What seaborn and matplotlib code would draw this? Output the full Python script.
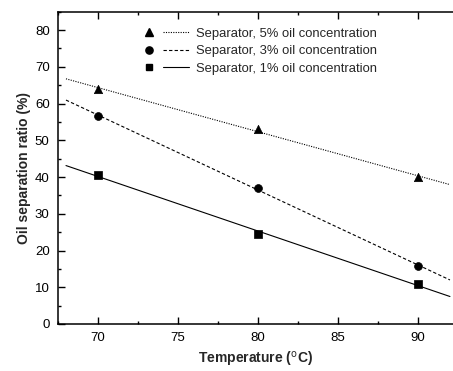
import numpy as np
import pandas as pd
import matplotlib
matplotlib.use("Agg")
import matplotlib.pyplot as plt
from matplotlib.ticker import MultipleLocator
from matplotlib.legend_handler import HandlerTuple
import seaborn as sns

# Measured oil separation ratios at each temperature
temperature = [70, 80, 90]
ratio_5pct = [64.0, 53.0, 40.0]
ratio_3pct = [56.6, 37.0, 15.8]
ratio_1pct = [40.6, 24.4, 10.9]

series_labels = [
    "Separator, 5% oil concentration",
    "Separator, 3% oil concentration",
    "Separator, 1% oil concentration",
]
markers = ["^", "o", "s"]
marker_sizes = [36, 32, 26]
legend_msizes = [5.5, 5.2, 4.8]
linestyles = [(0, (1, 1.2)), (0, (3, 2)), "-"]
fit_range = [68, 92]

sns.set_theme(style="ticks")
plt.rcParams["font.family"] = ["Liberation Sans", "DejaVu Sans"]

fig = plt.figure(figsize=(4.53, 3.71), dpi=100)
ax = fig.add_axes([0.128, 0.1267, 0.872, 0.8418])

handles = []
for vals, label, mk, ms, lms, ls in zip([ratio_5pct, ratio_3pct, ratio_1pct],
                                        series_labels, markers, marker_sizes,
                                        legend_msizes, linestyles):
    df = pd.DataFrame({"T": temperature, "R": vals})
    sns.scatterplot(data=df, x="T", y="R", marker=mk, s=ms, color="black",
                    edgecolor="black", linewidth=0.5, ax=ax, zorder=3)
    slope, icpt = np.polyfit(temperature, vals, 1)
    fit = pd.DataFrame({"T": fit_range,
                        "R": [slope * t + icpt for t in fit_range]})
    sns.lineplot(data=fit, x="T", y="R", color="black", linewidth=0.8,
                 linestyle=ls, ax=ax, zorder=2)
    mh = plt.Line2D([], [], marker=mk, color="black", linestyle="none",
                    markersize=lms)
    lh = plt.Line2D([], [], color="black", linewidth=0.8, linestyle=ls)
    handles.append((mh, lh))

ax.set_xlim(67.5, 92.19)
ax.set_ylim(0, 85)
ax.xaxis.set_major_locator(MultipleLocator(5))
ax.xaxis.set_minor_locator(MultipleLocator(2.5))
ax.yaxis.set_major_locator(MultipleLocator(10))
ax.yaxis.set_minor_locator(MultipleLocator(5))
ax.tick_params(which="both", direction="in", top=True, right=False,
               labelsize=9.5, colors="black", width=1.0)
ax.tick_params(which="major", length=5, pad=6)
ax.tick_params(which="minor", length=2.5)
for side in ["left", "bottom", "top"]:
    ax.spines[side].set_linewidth(1.1)
    ax.spines[side].set_color("black")
ax.spines["right"].set_visible(False)

ax.set_xlabel("Temperature ($^{\\mathrm{o}}$C)", fontsize=10, fontweight="bold",
              labelpad=4)
ax.set_ylabel("Oil separation ratio (%)", fontsize=10, fontweight="bold",
              labelpad=3)

ax.legend(handles, series_labels, handler_map={tuple: HandlerTuple(ndivide=None, pad=0.1)},
          frameon=False, fontsize=9.4, handlelength=4.0, handletextpad=0.55,
          labelspacing=0.42, loc="upper left", bbox_to_anchor=(0.185, 0.966),
          borderaxespad=0)

fig.savefig("out.png", dpi=100)
